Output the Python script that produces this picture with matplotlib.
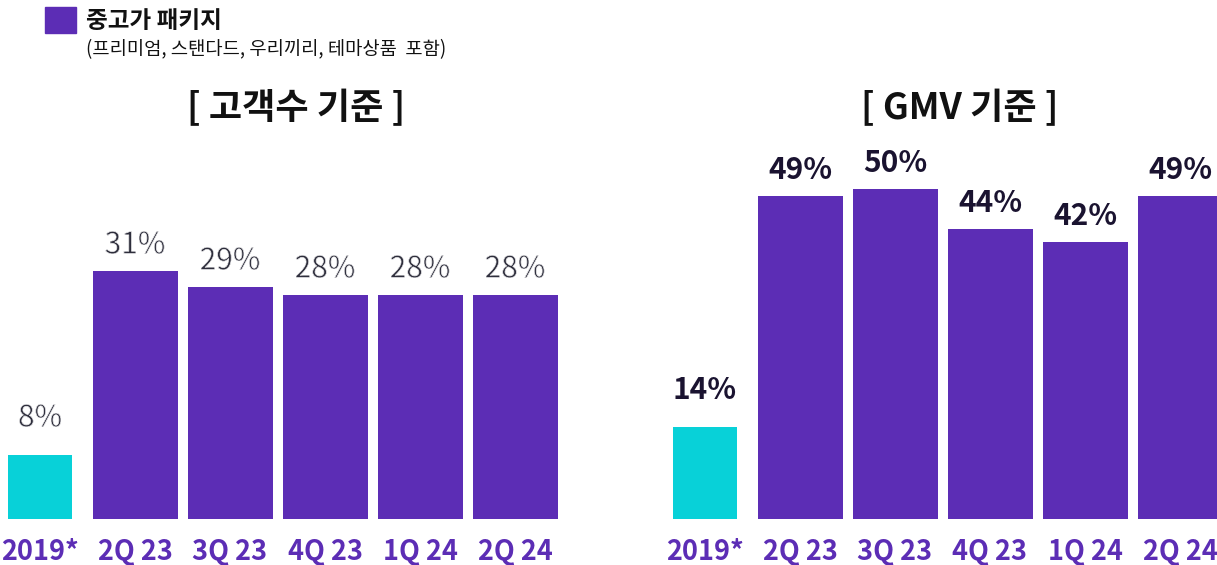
import matplotlib
matplotlib.use("Agg")
import matplotlib.pyplot as plt
from matplotlib.patches import Rectangle
from matplotlib import patheffects as pe

plt.rcParams['font.family'] = ['Noto Sans CJK KR', 'DejaVu Sans']

categories = ["2019*", "2Q 23", "3Q 23", "4Q 23", "1Q 24", "2Q 24"]
customers_pct = [8, 31, 29, 28, 28, 28]
gmv_pct = [14, 49, 50, 44, 42, 49]
title_left = "[ 고객수 기준 ]"
title_right = "[ GMV 기준 ]"
legend_title = "중고가 패키지"
legend_sub = "(프리미엄, 스탠다드, 우리끼리, 테마상품  포함)"

PURPLE = "#5c2db5"
CYAN = "#08d1d8"
W, H = 1217, 565

# thin ("light") look: slightly erode the regular glyphs with a white outline drawn on top
THIN = [pe.Normal(), pe.Stroke(linewidth=0.5, foreground="white")]

fig = plt.figure(figsize=(W / 100, H / 100), dpi=100)


def px_axes(x0, x1, ytop, ybot):
    return fig.add_axes([x0 / W, (H - ybot) / H, (x1 - x0) / W, (ybot - ytop) / H])


def draw_panel(ax, values, first_center, x0, x1, px_per_unit, label_kw, title, title_x):
    step = 95.0
    n = len(values)
    xs = list(range(n))
    ax.set_xlim((x0 - first_center) / step, (x1 - first_center) / step)
    height_px = 519 - 140
    ax.set_ylim(0, height_px / px_per_unit)
    colors = [CYAN] + [PURPLE] * (n - 1)
    widths = [64 / step] + [85 / step] * (n - 1)
    ax.bar(xs, values, width=widths, color=colors, linewidth=0)
    for i, v in enumerate(values):
        off = 37 if i == 0 else 26
        ax.annotate(f"{v}%", (i, v), xytext=(0, off), textcoords="offset pixels",
                    ha="center", va="center", **label_kw)
    ax.set_xticks(xs)
    ax.set_xticklabels(categories, fontsize=19.5, fontweight="bold", color=PURPLE)
    ax.tick_params(axis="x", length=0, pad=14)
    ax.set_yticks([])
    for s in ax.spines.values():
        s.set_visible(False)
    fig.text(title_x / W, (H - 108) / H, title, ha="center", va="center",
             fontsize=26, fontweight="bold", color="#111111")


axL = px_axes(0, 570, 140, 519)
draw_panel(axL, customers_pct, 40, 0, 570, 8.0,
           dict(fontsize=21.5, color="#2e2e3c", path_effects=THIN),
           title_left, 296)

axR = px_axes(620, 1217, 140, 519)
draw_panel(axR, gmv_pct, 705, 620, 1217, 6.6,
           dict(fontsize=21.5, fontweight="bold", color="#1a1330"),
           title_right, 960)

# legend
fig.patches.append(Rectangle((45 / W, (H - 33) / H), 31 / W, 26 / H,
                             transform=fig.transFigure, color=PURPLE, figure=fig))
fig.text(86 / W, (H - 21) / H, legend_title, ha="left", va="center",
         fontsize=17, fontweight="bold", color="#111111")
fig.text(86 / W, (H - 50) / H, legend_sub, ha="left", va="center",
         fontsize=13.5, color="#111111")

fig.savefig("out.png", dpi=100)
